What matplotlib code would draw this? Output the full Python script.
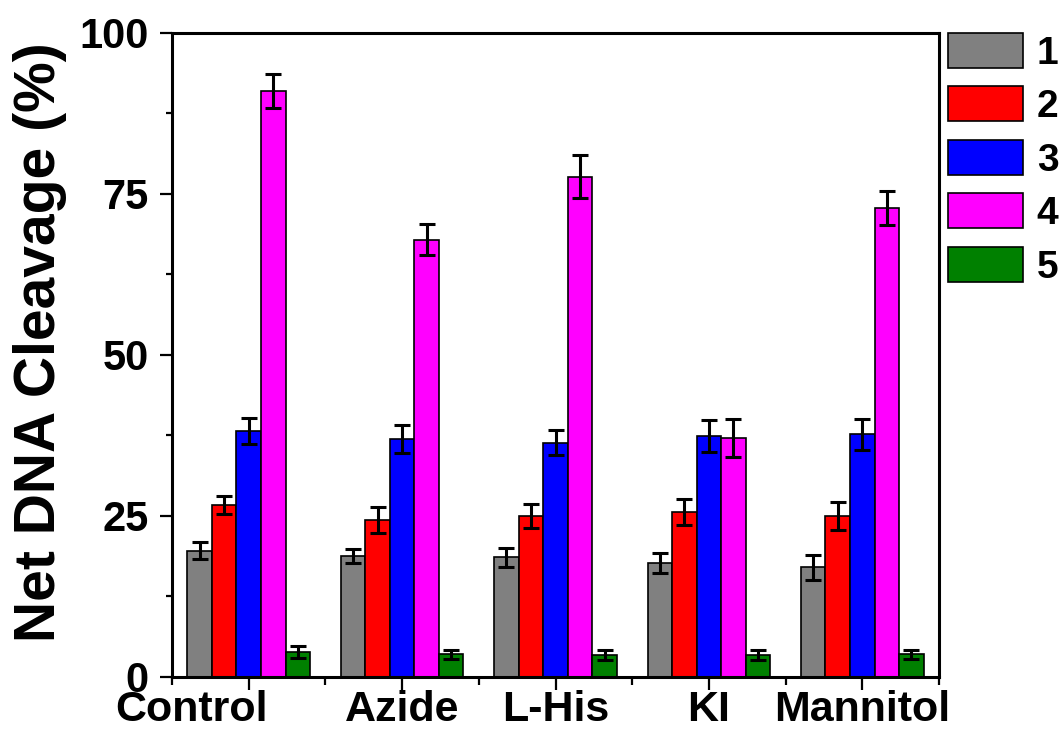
import numpy as np
import matplotlib.pyplot as plt
import matplotlib.transforms as mtransforms
from matplotlib.ticker import MultipleLocator, FixedLocator

plt.rcParams['font.family'] = ['Liberation Sans', 'DejaVu Sans']
plt.rcParams['font.weight'] = 'bold'

groups = ['Control', 'Azide', 'L-His', 'KI', 'Mannitol']
series = ['1', '2', '3', '4', '5']
colors = ['#808080', '#FF0000', '#0000FF', '#FF00FF', '#008000']

# values per series, one entry per group
vals = [
    [19.6, 18.8, 18.6, 17.7, 17.0],
    [26.7, 24.4, 25.0, 25.6, 25.0],
    [38.2, 37.0, 36.4, 37.4, 37.7],
    [91.0, 67.9, 77.7, 37.1, 72.8],
    [3.9, 3.5, 3.4, 3.4, 3.5],
]
errs = [
    [1.3, 1.1, 1.5, 1.6, 1.9],
    [1.4, 2.0, 1.8, 2.0, 2.2],
    [2.0, 2.2, 2.0, 2.5, 2.4],
    [2.6, 2.4, 3.3, 2.9, 2.6],
    [0.9, 0.7, 0.8, 0.8, 0.7],
]

fig = plt.figure(figsize=(10.64, 7.31), dpi=100)
ax = fig.add_axes([0.1617, 0.0739, 0.7208, 0.881])

x = np.arange(len(groups))
w = 0.16
for i in range(len(series)):
    ax.bar(x + (i - 2) * w, vals[i], w, color=colors[i], edgecolor='black',
           linewidth=1.2, label=series[i],
           yerr=errs[i], capsize=6,
           error_kw=dict(elinewidth=2.2, capthick=2.2, ecolor='black'))

ax.set_xlim(-0.5, 4.5)
ax.set_ylim(0, 100)
ax.set_xticks(x)
ax.set_xticklabels(groups, fontsize=31, fontweight='bold')
ax.xaxis.set_minor_locator(FixedLocator(np.arange(-0.5, 4.6, 1.0)))
ax.set_yticks([0, 25, 50, 75, 100])
ax.yaxis.set_minor_locator(MultipleLocator(12.5))
ax.tick_params(axis='y', labelsize=30, width=1.6, length=8.6, pad=8, direction='out')
ax.tick_params(axis='y', which='minor', width=1.6, length=4.3)
ax.tick_params(axis='x', width=1.6, length=9.4, direction='out', pad=0)
ax.tick_params(axis='x', which='minor', width=1.6, length=5.8)
for lab in ax.get_yticklabels():
    lab.set_fontweight('bold')
for s in ax.spines.values():
    s.set_linewidth(2.2)

# the "Control" label sits left of its tick in the original
shift = mtransforms.ScaledTranslation(-0.57, 0, fig.dpi_scale_trans)
lab0 = ax.get_xticklabels()[0]
lab0.set_transform(lab0.get_transform() + shift)

fig.text(40 / 1064, 1 - 342 / 731, 'Net DNA Cleavage (%)', rotation=90,
         ha='center', va='center', fontsize=41, fontweight='bold')

ax.legend(loc='upper left', bbox_to_anchor=(0.891, 0.955), bbox_transform=fig.transFigure,
          frameon=False, fontsize=28, handlelength=1.93, handleheight=1.0,
          labelspacing=0.38, handletextpad=0.35, borderaxespad=0, borderpad=0)

fig.savefig('out.png', dpi=100)
